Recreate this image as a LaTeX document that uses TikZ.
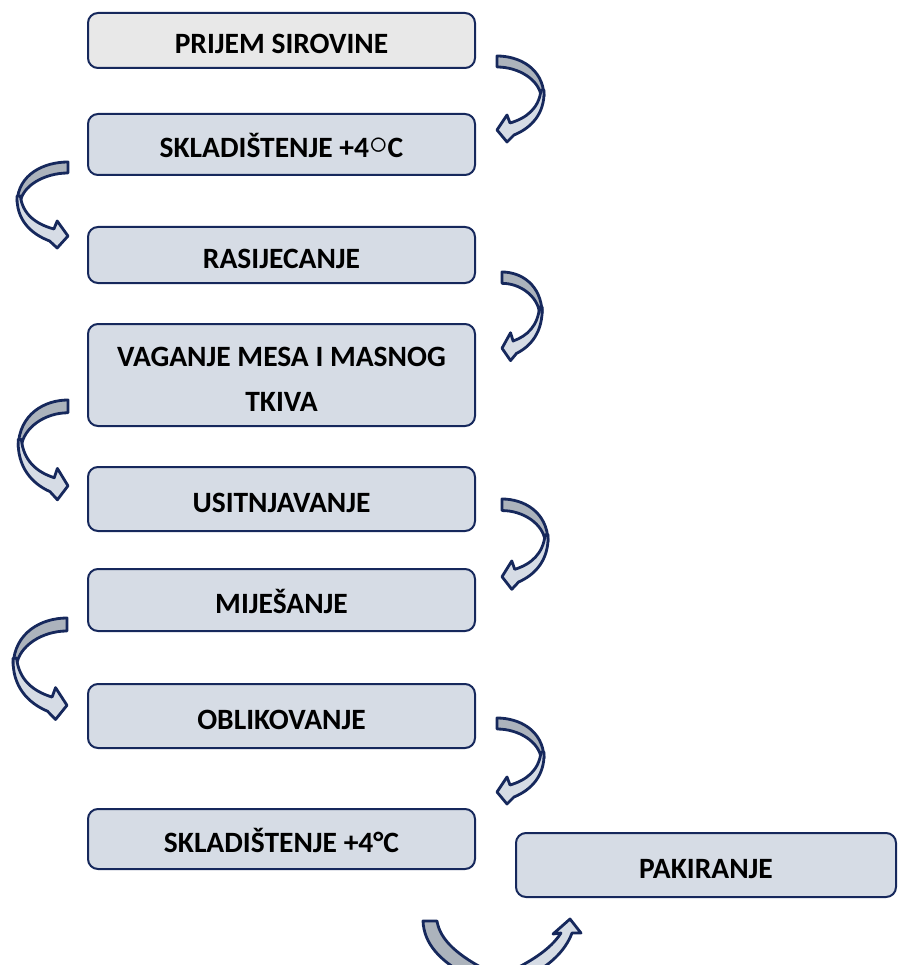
\documentclass[tikz,border=0pt]{standalone}
\usepackage{fontspec}
\setmainfont{Carlito}
\definecolor{navy}{RGB}{22,40,92}
\definecolor{boxfill}{RGB}{214,220,229}
\definecolor{firstfill}{RGB}{232,232,232}
\definecolor{arrdark}{RGB}{172,179,188}
\definecolor{arrlight}{RGB}{214,220,229}
\newcommand\capstrut{\rule{0pt}{27pt}}
\newcommand\ringdeg{\raisebox{3.5pt}{\scalebox{1.5}{$\circ$}}}
\tikzset{
  stepbox/.style={draw=navy, line width=2pt, fill=boxfill, rounded corners=10pt,
    minimum width=387pt, align=center, inner sep=0pt,
    font=\bfseries\fontsize{29.5}{45}\selectfont},
  arrowline/.style={draw=navy, line width=2.8pt, line join=round}
}
\newcommand\curvedarrow[4]{%
  \begin{scope}[shift={(#1,#2)},xscale=#3,yscale=#4]
    \draw[arrowline,fill=arrdark] (0,0) .. controls (22,0) and (46,12) .. (47,40)
      -- (44,40) .. controls (42,24) and (22,11) .. (0,11) -- cycle;
    \draw[arrowline,fill=arrlight] (47,34) .. controls (48,58) and (34,72) .. (17,79)
      -- (10,86) -- (0,74) -- (10,59) -- (13,67)
      .. controls (30,62) and (42,52) .. (44,34) -- cycle;
  \end{scope}}
\begin{document}
\begin{tikzpicture}[x=1pt,y=-1pt]
\useasboundingbox (0,0) rectangle (898,965);
% boxes
\node[stepbox, fill=firstfill, minimum height=55pt] (b1) at (281.5,40.5) {\capstrut PRIJEM SIROVINE};
\node[stepbox, minimum height=61pt] (b2) at (281.5,144.5) {\capstrut SKLADIŠTENJE +4\ringdeg C};
\node[stepbox, minimum height=56pt] (b3) at (281.5,255) {\capstrut RASIJECANJE};
\node[stepbox, minimum height=102pt] (b4) at (281.5,375) {\capstrut VAGANJE MESA I MASNOG\\TKIVA};
\node[stepbox, minimum height=64pt] (b5) at (281.5,499) {\capstrut USITNJAVANJE};
\node[stepbox, minimum height=62pt] (b6) at (281.5,600) {\capstrut MIJEŠANJE};
\node[stepbox, minimum height=64pt] (b7) at (281.5,716) {\capstrut OBLIKOVANJE};
\node[stepbox, minimum height=60pt] (b8) at (281.5,839) {\capstrut SKLADIŠTENJE +4°C};
\node[stepbox, minimum width=380pt, minimum height=64pt] (b9) at (706,865) {\capstrut PAKIRANJE};
% curved arrows
\curvedarrow{497}{56}{1}{1}
\curvedarrow{502}{272}{0.854}{1.03}
\curvedarrow{502}{499}{0.98}{1.05}
\curvedarrow{497}{718}{1}{1}
\curvedarrow{68}{162}{-1.083}{1}
\curvedarrow{68}{400}{-1.06}{1.16}
\curvedarrow{67}{618}{-1.146}{1.18}
% bottom curved up arrow
\begin{scope}
  \clip (0,0) rectangle (898,965);
  \draw[arrowline,fill=arrdark] (423,921) -- (437,921)
    .. controls (440,940) and (458,956) .. (490,972)
    -- (464,974) .. controls (440,960) and (424,944) .. (423,921) -- cycle;
  \draw[arrowline,fill=arrlight] (505,974) .. controls (530,962) and (550,950) .. (561,933)
    -- (553,934) -- (570,919) -- (581,933) -- (572,933)
    .. controls (565,952) and (548,966) .. (532,974) -- cycle;
\end{scope}
\end{tikzpicture}
\end{document}
